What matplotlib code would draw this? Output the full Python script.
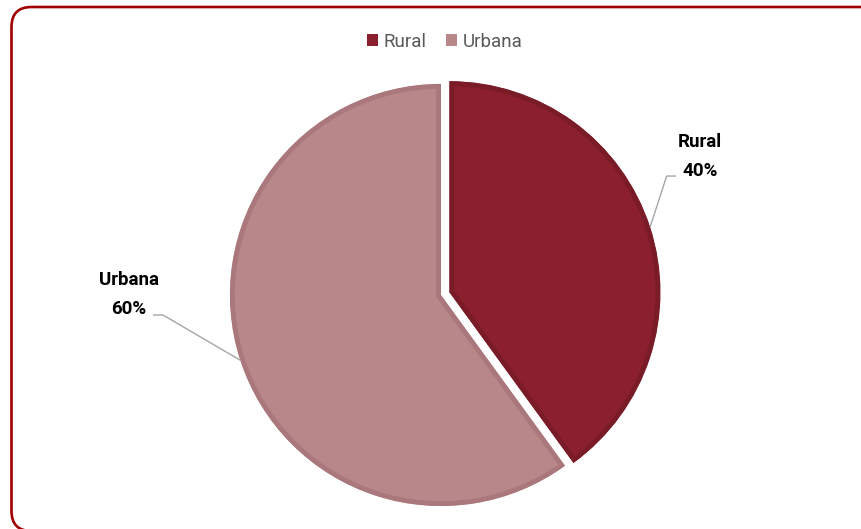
import matplotlib.pyplot as plt
import numpy as np
from matplotlib.patches import FancyBboxPatch, Patch

plt.rcParams['font.family'] = ['Roboto', 'DejaVu Sans']

# Distribution by area
areas = ['Rural', 'Urbana']
shares = [40, 60]
colors = ['#8B1F2E', '#B8878A']
edge_colors = ['#7A1B28', '#AA787C']
explode = [0.042, 0]

fig = plt.figure(figsize=(8.62, 5.29), dpi=100)

# rounded frame around the whole chart
frame = FancyBboxPatch((0.115, -0.02), 8.7, 5.24,
                       boxstyle='round,pad=0,rounding_size=0.2',
                       transform=fig.dpi_scale_trans, facecolor='none',
                       edgecolor='#A00000', linewidth=1.9, clip_on=False)
fig.patches.append(frame)

ax = fig.add_axes([0.2449, 0.0078, 0.5334, 0.8692])
wedges, _ = ax.pie(shares, colors=colors, explode=explode, startangle=90,
                   counterclock=False, radius=1.01)
ax.set_xlim(-1.1, 1.1)
ax.set_ylim(-1.1, 1.1)
ax.set_aspect('equal')
ax.axis('off')

# darker inner rim on each slice (stroke clipped to the slice itself)
for w, ec in zip(wedges, edge_colors):
    w.set_edgecolor(ec)
    w.set_linewidth(7)
    w.set_clip_on(True)
    w.set_clip_path(w)

# data labels with leader lines
label_pos = {'Rural': (1.239, 0.663), 'Urbana': (-1.493, 0.002)}
elbows = {'Rural': ((1.08, 0.569), (1.124, 0.569)),
          'Urbana': ((-1.330, -0.096), (-1.378, -0.096))}
for w, name, val in zip(wedges, areas, shares):
    mid = np.deg2rad((w.theta1 + w.theta2) / 2)
    cx, cy = w.center
    px, py = cx + w.r * np.cos(mid), cy + w.r * np.sin(mid)
    (ex, ey), (hx, hy) = elbows[name]
    ax.plot([px, ex, hx], [py, ey, hy], color='#A6A6A6', lw=1.0,
            clip_on=False, solid_capstyle='butt')
    tx, ty = label_pos[name]
    ax.text(tx, ty, f'{name}\n{val}%', ha='center', va='center',
            fontsize=13.5, fontweight='bold', color='#000000',
            linespacing=1.75)

handles = [Patch(facecolor=c, edgecolor='none') for c in colors]
fig.legend(handles, areas, loc='center', bbox_to_anchor=(0.516, 0.921),
           ncol=2, frameon=False, fontsize=13.5, labelcolor='#595959',
           handlelength=0.62, handleheight=0.62, handletextpad=0.3,
           columnspacing=1.0)

fig.savefig('out.png', dpi=100)
